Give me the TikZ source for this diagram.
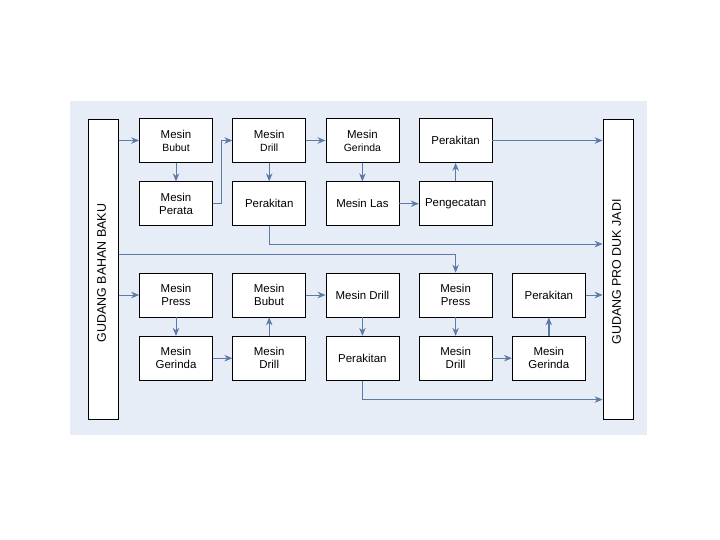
\documentclass[tikz,border=0pt]{standalone}
\usepackage{fontspec}
\setmainfont{Liberation Sans}
\usetikzlibrary{positioning,arrows.meta,calc}
\definecolor{bgblue}{HTML}{E7EDF6}
\definecolor{flowblue}{HTML}{5B7AA9}

\begin{document}
\begin{tikzpicture}[x=1bp, y=-1bp, >={Stealth[length=8bp 0,width=6.5bp 0]}, node distance=18.5bp and 19.5bp,
	mesin/.style={rectangle, draw, fill=white, line width=0.7bp, minimum width=73bp, minimum height=44bp,
		inner sep=1bp, align=center, font=\fontsize{11.5}{13}\selectfont},
	gudang/.style={rectangle, draw, fill=white, line width=0.8bp, minimum width=30bp, minimum height=300bp},
	gudangtext/.style={rotate=90, font=\fontsize{12.5}{14}\selectfont},
	flow/.style={->, draw=flowblue, line width=0.8bp},
	flowthick/.style={flow, line width=1.4bp}]
	\useasboundingbox (0,0) rectangle (720,540);
	\fill[bgblue] (70,101) rectangle (647,435);

	% gudang
	\node[gudang] (bahan) at (103.5,269) {};
	\node[gudangtext] (bahantext) at (101.5,273) {GUDANG BAHAN BAKU};
	\node[gudang] (produk) at (618,269) {};
	\node[gudangtext] (produktext) at (616.5,272) {GUDANG PRO DUK JADI};

	% jalur atas
	\node[mesin] (bubut1) at (176,140.5)  {Mesin\\{\fontsize{10.5}{12}\selectfont Bubut}};
	\node[mesin] (drill1) [right=of bubut1]  {Mesin\\{\fontsize{10.5}{12}\selectfont Drill}};
	\node[mesin] (gerinda1) [right=of drill1]  {Mesin\\{\fontsize{10.5}{12}\selectfont Gerinda}};
	\node[mesin] (rakit1) [right=of gerinda1]  {Perakitan};
	\node[mesin] (perata1) [below=of bubut1]  {Mesin\\Perata};
	\node[mesin] (rakit1b) [below=of drill1]  {Perakitan};
	\node[mesin] (las1) [below=of gerinda1]  {Mesin Las};
	\node[mesin] (cat1) [below=of rakit1]  {Pengecatan};

	% jalur bawah
	\node[mesin] (press2) at (176,295)  {Mesin\\Press};
	\node[mesin] (bubut2) [right=of press2]  {Mesin\\Bubut};
	\node[mesin] (drill2) [right=of bubut2]  {Mesin Drill};
	\node[mesin] (press2b) [right=of drill2]  {Mesin\\Press};
	\node[mesin] (rakit2) [right=of press2b]  {Perakitan};
	\node[mesin] (gerinda2) [below=of press2]  {Mesin\\Gerinda};
	\node[mesin] (drill2b) [below=of bubut2]  {Mesin\\Drill};
	\node[mesin] (rakit2b) [below=of drill2]  {Perakitan};
	\node[mesin] (drill2c) [below=of press2b]  {Mesin\\Drill};
	\node[mesin] (gerinda2c) [below=of rakit2]  {Mesin\\Gerinda};

	\coordinate (cabang) at ($(bahan.east)+(0,-15)$);
	\coordinate (belok1) at ($(rakit1b.south)+(0,18)$);
	\coordinate (belok2) at ($(rakit2b.south)+(0,19)$);

	% alur atas
	\draw[flowthick] (bahan.east |- bubut1.west) -- (bubut1);
	\draw[flow] (bubut1) -- (perata1);
	\draw[flow] (perata1.east) -- ++(9,0) |- (drill1.west);
	\draw[flowthick] (drill1) -- (gerinda1);
	\draw[flow] (drill1) -- (rakit1b);
	\draw[flow] (gerinda1) -- (las1);
	\draw[flow] (las1) -- (cat1);
	\draw[flowthick] (cat1) -- (rakit1);
	\draw[flowthick] (rakit1) -- (produk.west |- rakit1.east);
	\draw[flow] (rakit1b.south) -- (belok1) -- (produk.west |- belok1);

	% alur bawah
	\draw[flow] (cabang) -| (press2b.north);
	\draw[flow] (bahan.east |- press2.west) -- (press2);
	\draw[flow] (press2) -- (gerinda2);
	\draw[flow] (gerinda2) -- (drill2b);
	\draw[flow] (drill2b) -- (bubut2);
	\draw[flow] (bubut2) -- (drill2);
	\draw[flow] (drill2) -- (rakit2b);
	\draw[flow] (rakit2b.south) -- (belok2) -- (produk.west |- belok2);
	\draw[flowthick] (press2b) -- (drill2c);
	\draw[flow] (drill2c) -- (gerinda2c);
	\draw[flowthick] (gerinda2c) -- (rakit2);
	\draw[flow] (rakit2) -- (produk.west |- rakit2.east);
\end{tikzpicture}
\end{document}
